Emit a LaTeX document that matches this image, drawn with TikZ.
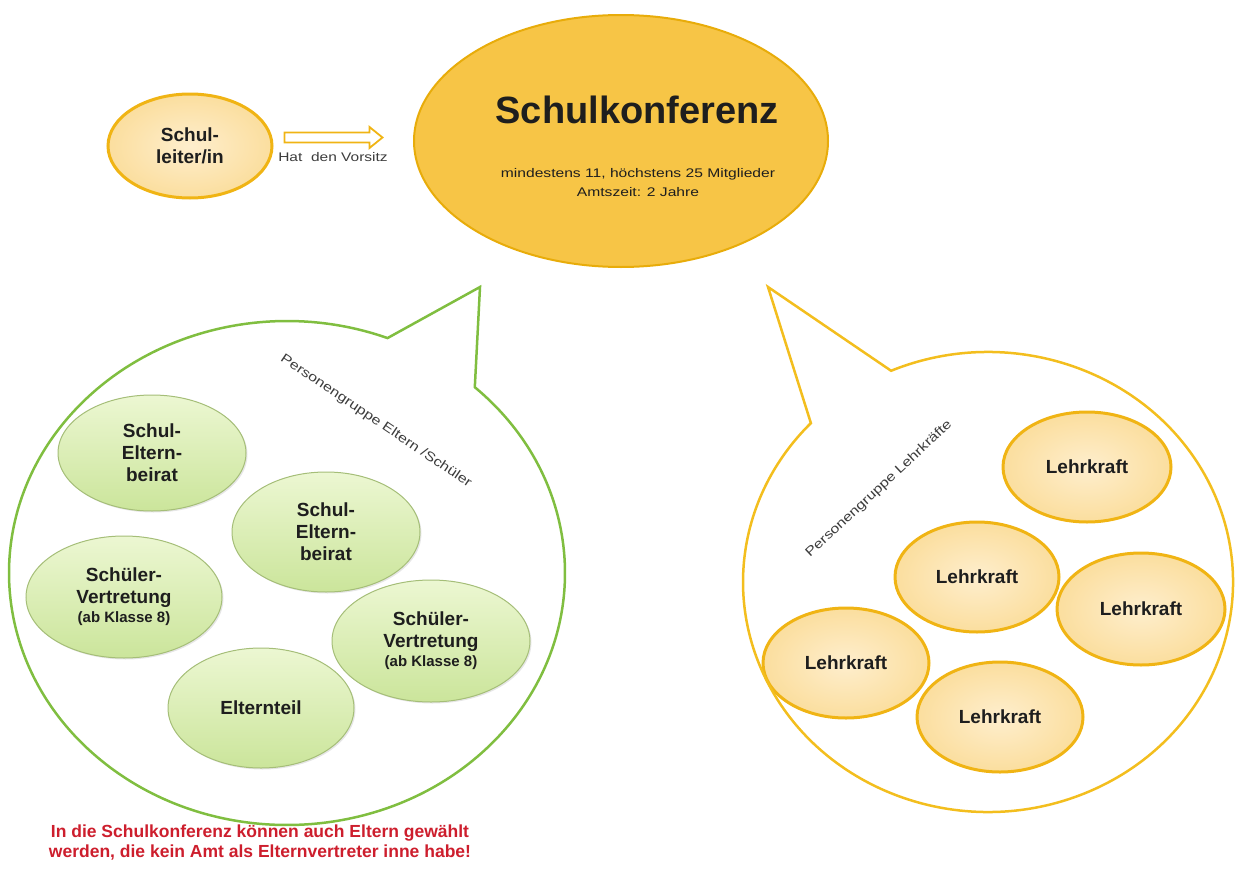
\documentclass[tikz,border=0pt]{standalone}
\usepackage{fontspec}
\setmainfont{Liberation Sans}
\usepackage{graphicx}
\usetikzlibrary{shapes.geometric,calc,shadows}

\definecolor{goldline}{RGB}{240,180,20}
\definecolor{peach}{RGB}{251,222,158}
\definecolor{peachlight}{RGB}{254,238,205}
\definecolor{skfill}{RGB}{247,197,70}
\definecolor{skline}{RGB}{232,172,10}
\definecolor{bubgreen}{RGB}{128,190,64}
\definecolor{bubyellow}{RGB}{243,190,30}
\definecolor{grfillA}{RGB}{236,247,210}
\definecolor{grfillB}{RGB}{203,229,155}
\definecolor{grline}{RGB}{165,190,120}
\definecolor{notered}{RGB}{205,30,45}
\definecolor{txt}{RGB}{30,30,30}
\definecolor{graytxt}{RGB}{60,60,60}

\tikzset{
  peachnode/.style={ellipse, draw=goldline, line width=3pt, inner color=peachlight, outer color=peach,
    inner sep=0pt, align=center, text=txt, font=\bfseries\fontsize{19}{22}\selectfont},
  greennode/.style={ellipse, draw=grline, line width=1pt, top color=grfillA, bottom color=grfillB,
    inner sep=0pt, align=center, text=txt, font=\bfseries\fontsize{19}{22}\selectfont,
    drop shadow={opacity=0.2, shadow xshift=1.5pt, shadow yshift=-1.5pt}},
  smalltext/.style={text=graytxt, inner sep=0pt, align=center, font=\fontsize{12.5}{19}\selectfont},
  grouptext/.style={text=graytxt, inner sep=0pt, font=\fontsize{13}{15}\selectfont},
  bubble/.style={line width=2.5pt, line join=miter},
  blockarrow/.style={draw=goldline, line width=1.8pt, fill=white, line join=miter}
}

\begin{document}
\begin{tikzpicture}[x=1pt,y=-1pt]
\useasboundingbox (0,0) rectangle (1237,870);

% --- top: Schulleiter and Schulkonferenz
\node[peachnode, minimum width=164pt, minimum height=104pt] (sl) at (190,146) {Schul-\\leiter/in};
\node[ellipse, draw=skline, line width=2pt, fill=skfill, minimum width=414pt, minimum height=252pt] (sk) at (621,141) {};
\node[text=txt, inner sep=0pt, font=\bfseries\fontsize{38}{44}\selectfont] (skt) at (637,110) {Schulkonferenz};
\node[smalltext, text=txt] (sks) at (638,183) {\scalebox{1.25}[1]{mindestens 11, höchstens 25 Mitglieder}\\\scalebox{1.25}[1]{Amtszeit: 2 Jahre}};

% block arrow
\coordinate (ab) at ($(sl.east)+(11,-8.5)$);
\draw[blockarrow] ($(ab)+(0,-5)$) -- ++(85,0) -- ++(0,-5.5) -- ($(ab)+(98,0)$)
  -- ($(ab)+(85,10.5)$) -- ++(0,-5.5) -- ($(ab)+(0,5)$) -- cycle;
\node[smalltext] (hv) at (333,157) {\scalebox{1.24}[1]{Hat\ \ den Vorsitz}};

% --- green group
\node[greennode, minimum width=188pt, minimum height=116pt] (se1) at (152,453) {Schul-\\Eltern-\\beirat};
\node[greennode, minimum width=188pt, minimum height=120pt] (se2) at (326,532) {Schul-\\Eltern-\\beirat};
\node[greennode, minimum width=196pt, minimum height=122pt] (sv1) at (124,597) {Schüler-\\Vertretung\\[-3pt]{\fontsize{15}{17}\selectfont(ab Klasse 8)}};
\node[greennode, minimum width=198pt, minimum height=122pt] (sv2) at (431,641) {Schüler-\\Vertretung\\[-3pt]{\fontsize{15}{17}\selectfont(ab Klasse 8)}};
\node[greennode, minimum width=186pt, minimum height=120pt] (et) at (261,708) {Elternteil};

\draw[bubble, draw=bubgreen] (480,287) -- ($(287,573)+(-47.5:278 and 252)$)
  arc[start angle=-47.5, end angle=291.2, x radius=278, y radius=252] -- cycle;
\node[grouptext, rotate=-34] (pe) at (376,421) {\scalebox{1.23}[1]{Personengruppe Eltern /Schüler}};

% --- yellow group
\node[peachnode, minimum width=168pt, minimum height=110pt] (l1) at (1087,467) {Lehrkraft};
\node[peachnode, minimum width=164pt, minimum height=110pt] (l2) at (977,577) {Lehrkraft};
\node[peachnode, minimum width=168pt, minimum height=112pt] (l3) at (1141,609) {Lehrkraft};
\node[peachnode, minimum width=166pt, minimum height=110pt] (l4) at (846,663) {Lehrkraft};
\node[peachnode, minimum width=166pt, minimum height=110pt] (l5) at (1000,717) {Lehrkraft};

\draw[bubble, draw=bubyellow] (768,287) -- ($(988,582)+(246.7:245 and 230)$)
  arc[start angle=246.7, end angle=583.7, x radius=245, y radius=230] -- cycle;
\node[grouptext, rotate=43] (pl) at (879,489) {\scalebox{1.23}[1]{Personengruppe Lehrkräfte}};

% --- note
\node[text=notered, inner sep=0pt, align=center, font=\bfseries\fontsize{17.5}{20}\selectfont] (note) at (260,843)
  {In die Schulkonferenz können auch Eltern gewählt\\werden, die kein Amt als Elternvertreter inne habe!};
\end{tikzpicture}
\end{document}
